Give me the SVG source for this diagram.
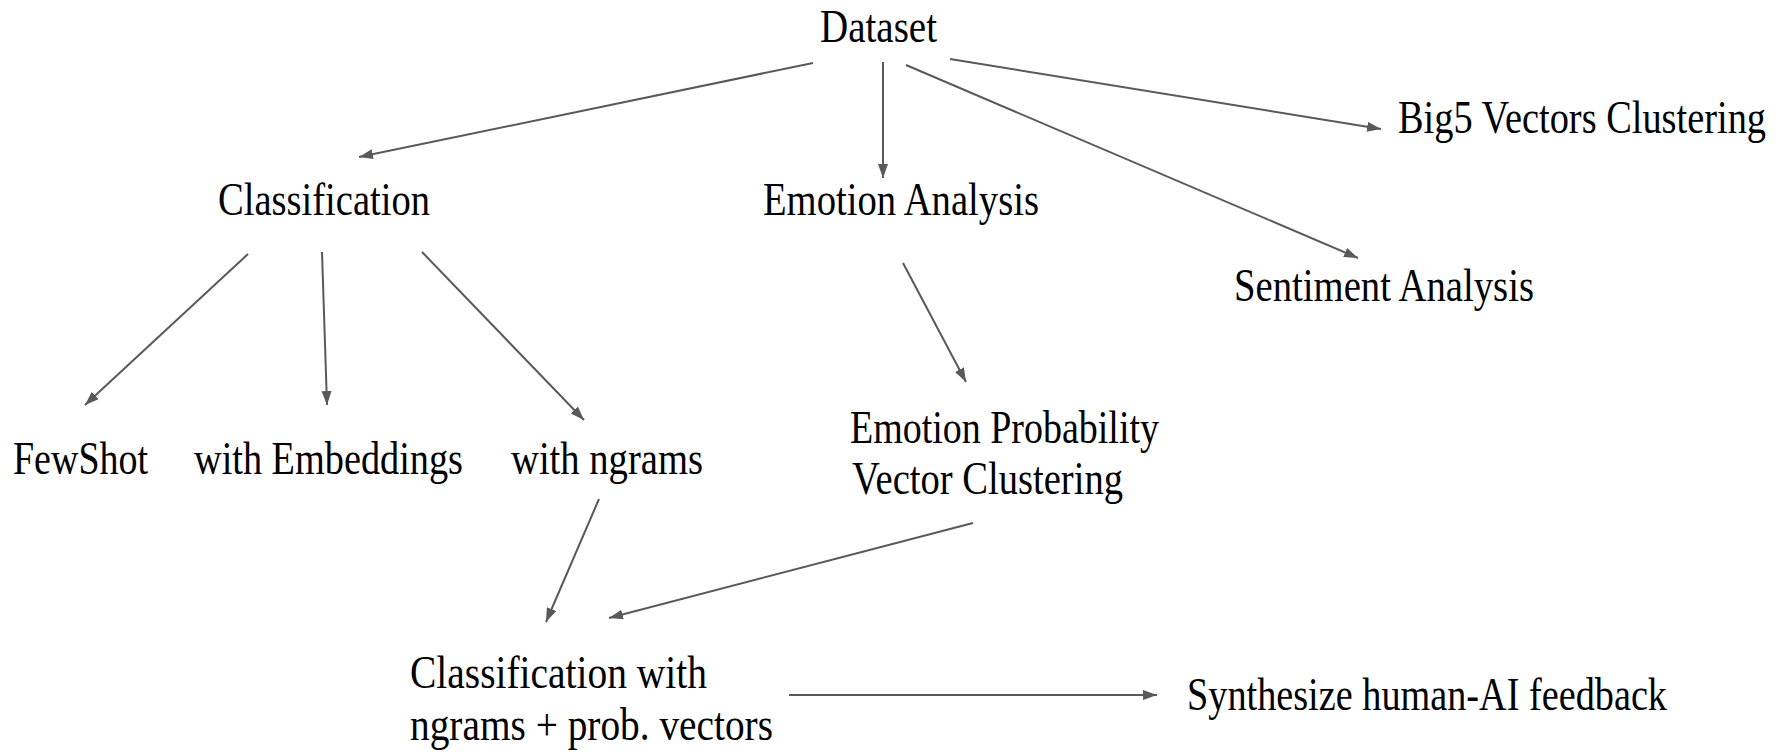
<svg xmlns="http://www.w3.org/2000/svg" width="1779" height="756" viewBox="0 0 1779 756">
<style>
.t{font-family:"Liberation Serif","Times New Roman",serif;font-size:47px;fill:#000;}
.c{stroke:#595959;stroke-width:2;fill:none;marker-end:url(#ah);}
</style>
<defs>
<marker id="ah" markerUnits="userSpaceOnUse" markerWidth="16" markerHeight="12" refX="14" refY="5" orient="auto">
<path d="M0,0 L14,5 L0,10 z" fill="#595959"/>
</marker>
</defs>
<rect width="1779" height="756" fill="#fff"/>
<g id="connectors">
<line class="c" x1="813" y1="63" x2="359" y2="157"/>
<line class="c" x1="883" y1="62" x2="883" y2="178"/>
<line class="c" x1="906" y1="65" x2="1358" y2="258"/>
<line class="c" x1="950" y1="59" x2="1381" y2="129"/>
<line class="c" x1="248" y1="254" x2="85" y2="405"/>
<line class="c" x1="322" y1="252" x2="327" y2="405"/>
<line class="c" x1="422" y1="252" x2="584" y2="420"/>
<line class="c" x1="903" y1="263" x2="966" y2="382"/>
<line class="c" x1="599" y1="499" x2="546" y2="622"/>
<line class="c" x1="973" y1="523" x2="609" y2="618"/>
<line class="c" x1="789" y1="695" x2="1157" y2="695"/>
</g>
<g id="dataset"><text class="t" x="820" y="42" textLength="117" lengthAdjust="spacingAndGlyphs">Dataset</text></g>
<g id="classification"><text class="t" x="218" y="215" textLength="212" lengthAdjust="spacingAndGlyphs">Classification</text></g>
<g id="emotion-analysis"><text class="t" x="763" y="215" textLength="276" lengthAdjust="spacingAndGlyphs">Emotion Analysis</text></g>
<g id="big5"><text class="t" x="0" y="0" transform="translate(1398,133) scale(1,1.3)" style="font-size:36px" textLength="368" lengthAdjust="spacingAndGlyphs">Big5 Vectors Clustering</text></g>
<g id="sentiment"><text class="t" x="1234" y="301" textLength="300" lengthAdjust="spacingAndGlyphs">Sentiment Analysis</text></g>
<g id="fewshot"><text class="t" x="13" y="474" textLength="135" lengthAdjust="spacingAndGlyphs">FewShot</text></g>
<g id="embeddings"><text class="t" x="194" y="474" textLength="269" lengthAdjust="spacingAndGlyphs">with Embeddings</text></g>
<g id="ngrams"><text class="t" x="511" y="474" textLength="192" lengthAdjust="spacingAndGlyphs">with ngrams</text></g>
<g id="epvc">
<text class="t" x="850" y="443" textLength="309" lengthAdjust="spacingAndGlyphs">Emotion Probability</text>
<text class="t" x="852" y="494" textLength="271" lengthAdjust="spacingAndGlyphs">Vector Clustering</text>
</g>
<g id="class-with">
<text class="t" x="410" y="688" textLength="297" lengthAdjust="spacingAndGlyphs">Classification with</text>
<text class="t" x="410" y="740" textLength="363" lengthAdjust="spacingAndGlyphs">ngrams + prob. vectors</text>
</g>
<g id="synthesize"><text class="t" x="1187" y="710" textLength="480" lengthAdjust="spacingAndGlyphs">Synthesize human-AI feedback</text></g>
</svg>
